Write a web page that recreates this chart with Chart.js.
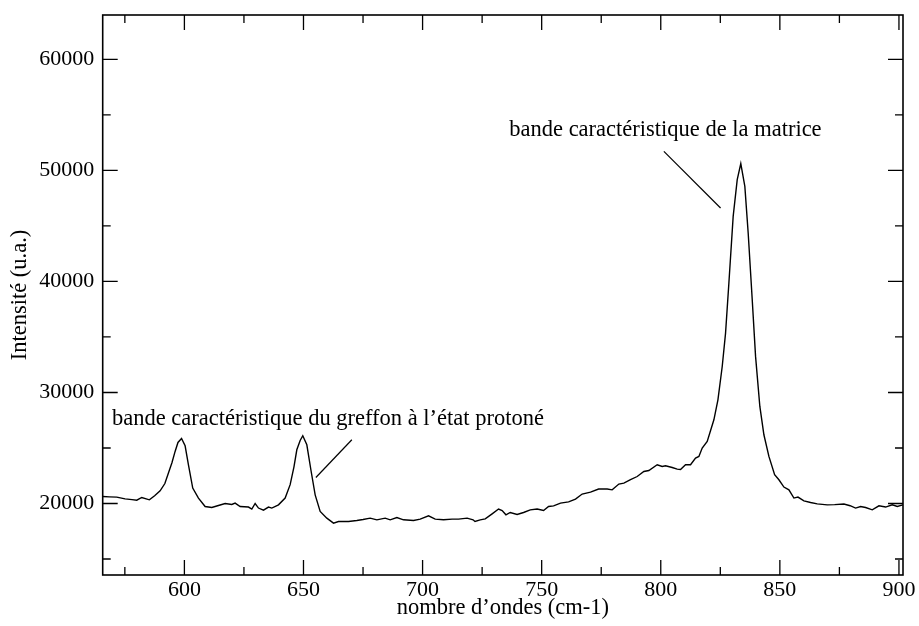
<!DOCTYPE html>
<html>
<head>
<meta charset="utf-8">
<script src="https://cdn.jsdelivr.net/npm/chart.js@4/dist/chart.umd.min.js"></script>
<style>
  html, body { margin: 0; padding: 0; background: #fff; }
  #wrap { position: relative; width: 919px; height: 626px; }
</style>
</head>
<body>
<div id="wrap"><canvas id="spectre"></canvas></div>
<script>
// Spectre : nombre d'ondes (cm-1) et intensité (u.a.)
const nombreOndes = [
  565.7, 568.5, 571.6, 575.1, 578.0, 580.0, 582.1, 585.3, 587.5, 589.8,
  591.8, 593.3, 594.8, 596.1, 597.3, 598.8, 600.3, 601.7, 603.5, 605.9,
  608.7, 611.5, 614.3, 617.1, 619.9, 621.3, 623.4, 626.9, 628.3, 629.7,
  631.1, 633.2, 635.3, 636.7, 639.5, 642.3, 644.4, 646.0, 647.2, 648.6,
  649.7, 651.4, 653.1, 654.9, 657.0, 659.8, 662.6, 664.7, 668.9, 672.4,
  675.0, 678.0, 680.8, 684.3, 686.4, 689.2, 692.0, 696.2, 699.0, 702.5,
  705.3, 708.8, 712.4, 715.1, 718.7, 721.2, 722.0, 724.2, 726.3, 729.2,
  731.9, 733.4, 735.0, 736.8, 739.7, 742.4, 745.2, 748.1, 750.8, 752.9,
  755.0, 757.9, 761.3, 764.2, 767.0, 770.5, 773.9, 777.5, 779.6, 782.4,
  784.5, 787.3, 790.1, 792.9, 795.0, 798.5, 800.6, 802.0, 804.8, 806.9,
  808.3, 810.4, 812.5, 814.6, 816.0, 817.4, 819.5, 822.3, 824.0, 825.8,
  827.2, 828.6, 830.4, 832.1, 833.6, 835.3, 836.7, 838.4, 839.8, 841.6,
  843.3, 845.4, 847.8, 849.6, 851.7, 853.8, 855.9, 857.6, 860.1, 862.9,
  865.7, 869.9, 873.0, 876.9, 879.5, 881.8, 883.9, 886.0, 888.8, 891.6,
  894.4, 897.2, 899.3, 901.7
];
const intensite = [
  20630, 20600, 20577, 20420, 20350, 20300, 20540, 20330, 20700, 21140,
  21800, 22740, 23700, 24690, 25500, 25850, 25200, 23490, 21390, 20490,
  19730, 19640, 19820, 20000, 19910, 20040, 19730, 19680, 19500, 20000,
  19590, 19400, 19680, 19590, 19880, 20490, 21700, 23300, 24840, 25680,
  26100, 25290, 23040, 20780, 19280, 18680, 18230, 18380, 18380, 18470,
  18560, 18680, 18530, 18680, 18530, 18740, 18530, 18470, 18590, 18890,
  18590, 18530, 18590, 18590, 18680, 18530, 18380, 18530, 18620, 19070,
  19500, 19370, 18980, 19190, 19010, 19190, 19430, 19500, 19370, 19730,
  19790, 20040, 20150, 20400, 20850, 21030, 21300, 21300, 21230, 21750,
  21840, 22140, 22430, 22880, 22970, 23490, 23330, 23400, 23240, 23100,
  23070, 23490, 23490, 24090, 24240, 24990, 25590, 27540, 29340, 32340,
  35350, 39860, 45860, 49170, 50610, 48560, 44360, 38350, 33250, 28740,
  26190, 24240, 22590, 22140, 21480, 21230, 20490, 20580, 20240, 20090,
  19970, 19880, 19900, 19950, 19800, 19590, 19730, 19640, 19430, 19790,
  19680, 19880, 19730, 19880
];

// Graduations
const ticksX = [600, 650, 700, 750, 800, 850, 900];
const ticksXMineurs = [575, 625, 675, 725, 775, 825, 875];
const ticksY = [20000, 30000, 40000, 50000, 60000];
const ticksYMineurs = [15000, 25000, 35000, 45000, 55000];

// Annotations : texte et trait de rappel, en coordonnées de données
const annotations = [
  { texte: 'bande caractéristique de la matrice', x: 736.4, y: 53600,
    trait: [801.3, 51710, 825.1, 46620] },
  { texte: 'bande caractéristique du greffon à l\u2019état protoné', x: 569.6, y: 27630,
    trait: [670.3, 25740, 655.2, 22340] }
];

const police = 'Liberation Serif, Times New Roman, serif';

const points = nombreOndes.map((x, i) => ({ x, y: intensite[i] }));

// cadre fermé + graduations tournées vers l'intérieur sur les 4 côtés
const cadrePlugin = {
  id: 'cadre',
  afterDraw(chart) {
    const { ctx, chartArea: a, scales: { x, y } } = chart;
    ctx.save();
    ctx.strokeStyle = '#000';
    ctx.lineWidth = 1.6;
    ctx.strokeRect(a.left, a.top, a.right - a.left, a.bottom - a.top);
    ctx.lineWidth = 1.3;
    ctx.beginPath();
    const tx = (v, len) => {
      const px = x.getPixelForValue(v);
      ctx.moveTo(px, a.bottom); ctx.lineTo(px, a.bottom - len);
      ctx.moveTo(px, a.top); ctx.lineTo(px, a.top + len);
    };
    const ty = (v, len) => {
      const py = y.getPixelForValue(v);
      ctx.moveTo(a.left, py); ctx.lineTo(a.left + len, py);
      ctx.moveTo(a.right, py); ctx.lineTo(a.right - len, py);
    };
    ticksX.forEach(v => tx(v, 15));
    ticksXMineurs.forEach(v => tx(v, 8));
    ticksY.forEach(v => ty(v, 15));
    ticksYMineurs.forEach(v => ty(v, 8));
    ctx.stroke();
    ctx.restore();
  }
};

const annotationPlugin = {
  id: 'annotationsTexte',
  afterDraw(chart) {
    const { ctx, scales: { x, y } } = chart;
    ctx.save();
    ctx.fillStyle = '#000';
    ctx.strokeStyle = '#000';
    ctx.lineWidth = 1.2;
    ctx.font = '22.5px ' + police;
    ctx.textAlign = 'left';
    ctx.textBaseline = 'middle';
    annotations.forEach(an => {
      ctx.fillText(an.texte, x.getPixelForValue(an.x), y.getPixelForValue(an.y));
      const [x1, y1, x2, y2] = an.trait;
      ctx.beginPath();
      ctx.moveTo(x.getPixelForValue(x1), y.getPixelForValue(y1));
      ctx.lineTo(x.getPixelForValue(x2), y.getPixelForValue(y2));
      ctx.stroke();
    });
    ctx.restore();
  }
};

new Chart(document.getElementById('spectre'), {
  type: 'scatter',
  data: {
    datasets: [{
      data: points,
      showLine: true,
      borderColor: '#000',
      borderWidth: 1.4,
      pointRadius: 0,
      tension: 0,
      fill: false
    }]
  },
  options: {
    responsive: true,
    maintainAspectRatio: false,
    animation: false,
    layout: { padding: { top: 15, right: 16, left: 0, bottom: 0 } },
    plugins: {
      legend: { display: false },
      tooltip: { enabled: false }
    },
    scales: {
      x: {
        type: 'linear',
        min: 565.7,
        max: 901.7,
        grid: { display: false, drawTicks: false },
        border: { display: false },
        afterBuildTicks: s => { s.ticks = ticksX.map(value => ({ value })); },
        afterFit: s => { s.height = 51; s.paddingLeft = 0; s.paddingRight = 0; },
        ticks: {
          color: '#000',
          padding: 2,
          maxRotation: 0,
          font: { family: police, size: 22 },
          callback: v => String(v)
        },
        title: {
          display: true,
          text: 'nombre d\u2019ondes (cm-1)',
          color: '#000',
          font: { family: police, size: 22.5 },
          padding: { top: 0, bottom: 4 }
        }
      },
      y: {
        type: 'linear',
        min: 13560,
        max: 64000,
        grid: { display: false, drawTicks: false },
        border: { display: false },
        afterBuildTicks: s => { s.ticks = ticksY.map(value => ({ value })); },
        afterFit: s => { s.width = 102.7; s.paddingTop = 0; s.paddingBottom = 0; },
        ticks: {
          color: '#000',
          padding: 8.4,
          font: { family: police, size: 22 },
          callback: v => String(v)
        },
        title: {
          display: true,
          text: 'Intensité (u.a.)',
          color: '#000',
          font: { family: police, size: 22.5 },
          padding: { top: 6.5, bottom: 0 }
        }
      }
    }
  },
  plugins: [cadrePlugin, annotationPlugin]
});
</script>
</body>
</html>
